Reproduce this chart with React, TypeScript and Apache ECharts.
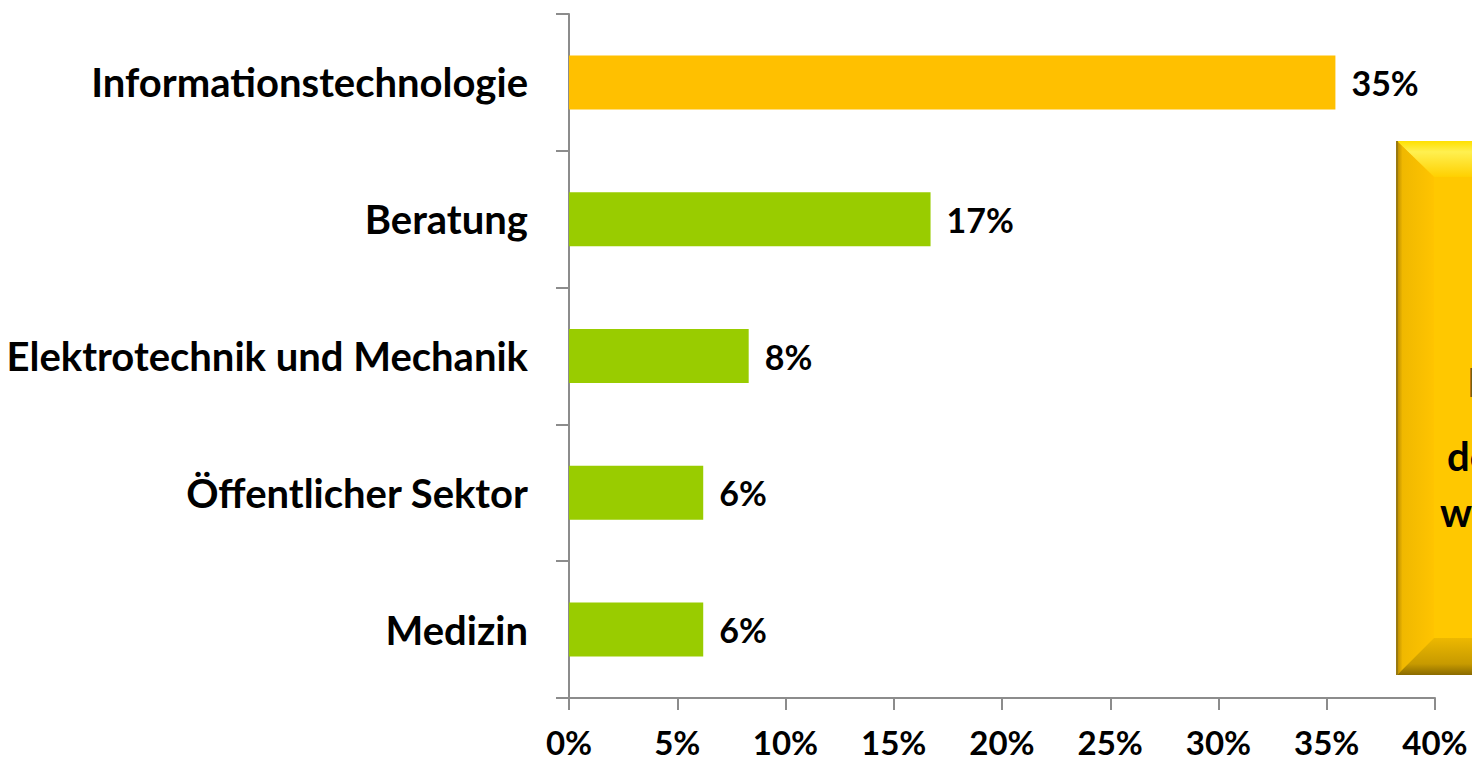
import React, { useEffect, useRef } from "react";
import * as echarts from "echarts";

const categories = [
  "Informationstechnologie",
  "Beratung",
  "Elektrotechnik und Mechanik",
  "Öffentlicher Sektor",
  "Medizin",
];
const values = [35.4, 16.7, 8.3, 6.2, 6.2];
const barColors = ["#FFC000", "#99CC00", "#99CC00", "#99CC00", "#99CC00"];
const boxLines = ["IT", "der", "wird"];

const FONT = "Lato";

export default function App() {
  const ref = useRef<HTMLDivElement>(null);
  useEffect(() => {
    if (!ref.current) return;
    const chart = echarts.init(ref.current, null, { renderer: "svg" });
    const axisColor = "#8C8C8C";
    chart.setOption({
      animation: false,
      backgroundColor: "#ffffff",
      grid: { left: 569, right: 37, top: 14, bottom: 63, containLabel: false },
      xAxis: {
        type: "value",
        min: 0,
        max: 40,
        interval: 5,
        axisLine: { show: true, lineStyle: { color: axisColor, width: 2 } },
        axisTick: { show: true, length: 12, lineStyle: { color: axisColor, width: 2 } },
        splitLine: { show: false },
        axisLabel: {
          formatter: "{value}%",
          color: "#000",
          fontFamily: FONT,
          fontWeight: "bold",
          fontSize: 33,
          lineHeight: 26,
          margin: 31,
        },
      },
      yAxis: {
        type: "category",
        inverse: true,
        data: categories,
        axisLine: { show: true, lineStyle: { color: axisColor, width: 2 } },
        axisTick: { show: true, length: 13, lineStyle: { color: axisColor, width: 2 } },
        axisLabel: {
          color: "#000",
          fontFamily: FONT,
          fontWeight: "bold",
          fontSize: 40,
          margin: 41,
        },
      },
      series: [
        {
          type: "bar",
          barWidth: 54,
          data: values.map((v, i) => ({ value: v, itemStyle: { color: barColors[i] } })),
          label: {
            show: true,
            position: "right",
            distance: 16,
            color: "#000",
            fontFamily: FONT,
            fontWeight: "bold",
            fontSize: 34,
            formatter: (p: any) => Math.round(p.value) + "%",
          },
        },
      ],
      graphic: [
        { type: "rect", shape: { x: 1397, y: 141, width: 120, height: 534 }, style: { fill: "#FFC800" }, z: 10 },
        {
          type: "polygon",
          shape: { points: [[1397, 141], [1517, 141], [1517, 177], [1434, 177]] },
          style: {
            fill: new echarts.graphic.LinearGradient(0, 0, 0, 1, [
              { offset: 0, color: "#FFE000" },
              { offset: 0.3, color: "#FFF050" },
              { offset: 1, color: "#FFD000" },
            ]),
          },
          z: 11,
        },
        {
          type: "polygon",
          shape: { points: [[1397, 141], [1434, 177], [1434, 638], [1397, 675]] },
          style: {
            fill: new echarts.graphic.LinearGradient(0, 0, 1, 0, [
              { offset: 0, color: "#B88A00" },
              { offset: 0.15, color: "#F0B800" },
              { offset: 1, color: "#FFC400" },
            ]),
          },
          z: 11,
        },
        {
          type: "polygon",
          shape: { points: [[1397, 675], [1434, 638], [1517, 638], [1517, 675]] },
          style: {
            fill: new echarts.graphic.LinearGradient(0, 0, 0, 1, [
              { offset: 0, color: "#EDB800" },
              { offset: 0.7, color: "#C79A00" },
              { offset: 1, color: "#8A6A00" },
            ]),
          },
          z: 11,
        },
        { type: "line", shape: { x1: 1397, y1: 141, x2: 1397, y2: 675 }, style: { stroke: "#9A7A10", lineWidth: 2 }, z: 12 },
        { type: "text", x: 1467, y: 382, style: { text: boxLines[0], fill: "#1a1a1a", font: "bold 40px Lato", textVerticalAlign: "middle", opacity: 0.6 }, z: 13 },
        { type: "text", x: 1447, y: 456, style: { text: boxLines[1], fill: "#000", font: "bold 40px Lato", textVerticalAlign: "middle" }, z: 13 },
        { type: "text", x: 1440, y: 512, style: { text: boxLines[2], fill: "#000", font: "bold 40px Lato", textVerticalAlign: "middle" }, z: 13 },
      ],
    });
    return () => chart.dispose();
  }, []);
  return (
    <div
      ref={ref}
      style={{ position: "fixed", left: 0, top: 0, width: 1472, height: 761, background: "#fff" }}
    />
  );
}
